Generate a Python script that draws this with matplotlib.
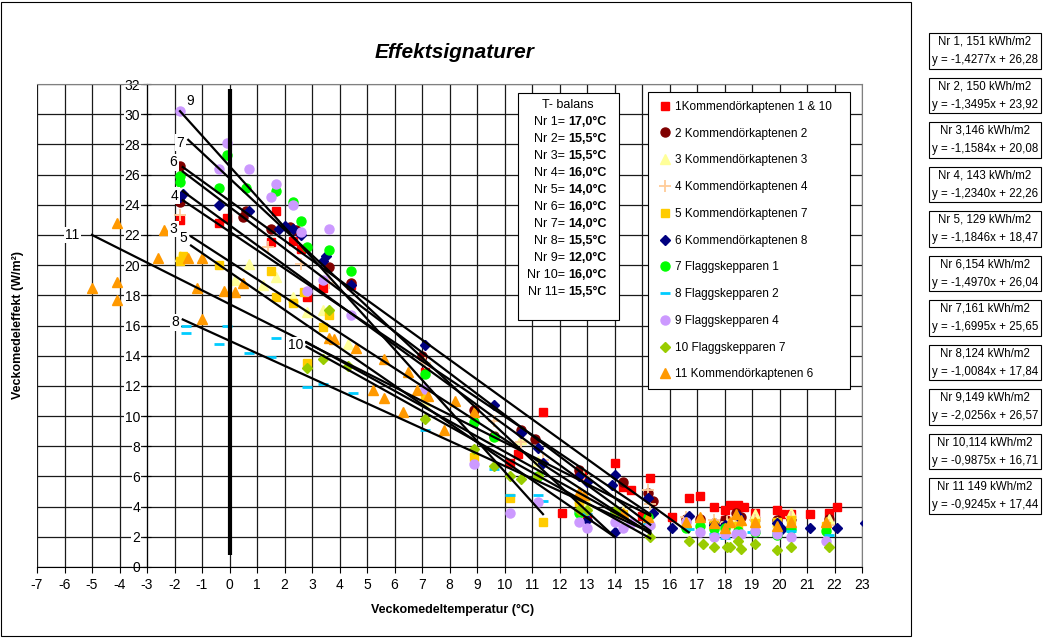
import matplotlib
matplotlib.use('Agg')
from matplotlib import pyplot as plt
import matplotlib.patches as mpatches

plt.rcParams['font.family'] = ['Liberation Sans', 'DejaVu Sans']
plt.rcParams['axes.unicode_minus'] = False

# scatter series (weekly mean temperature, weekly mean power)
x1 = [-1.8, -0.4, -0.1, 1.5, 1.7, 2.3, 2.6, 2.8, 3.4, 4.4, 7.1, 10.2, 10.5, 11.4, 12.1, 12.7, 12.8, 13.0, 14.0, 14.3,
      14.6, 15.0, 15.3, 16.1, 16.7, 17.1, 17.6, 18.0, 18.0, 18.2, 18.5, 18.7, 19.1, 19.9, 20.1, 20.4, 21.1, 21.8, 22.1]
y1 = [23.0, 22.8, 23.1, 21.5, 23.6, 21.6, 21.1, 17.9, 18.5, 18.7, 12.9, 6.9, 7.5, 10.3, 3.6, 6.2, 6.0, 3.3, 6.9, 5.3,
      5.1, 3.4, 5.9, 3.3, 4.6, 4.7, 4.0, 3.8, 3.1, 4.1, 4.1, 4.0, 3.6, 3.8, 3.5, 3.5, 3.5, 3.6, 4.0]
x2 = [-1.8, -1.8, 0.6, 0.5, 1.5, 2.2, 2.4, 3.6, 4.4, 7.0, 8.9, 9.6, 10.6, 11.1, 12.7, 14.3, 15.2, 15.4, 16.6, 17.1,
      17.6, 18.0, 18.4, 18.6, 19.1, 19.9, 20.4, 21.8]
y2 = [26.6, 24.2, 23.6, 23.2, 22.4, 22.5, 22.3, 19.9, 18.8, 14.0, 10.4, 8.7, 9.1, 8.5, 6.4, 5.6, 4.9, 4.4, 3.2, 3.2,
      2.9, 3.1, 3.6, 3.3, 3.2, 3.1, 3.2, 3.2]
x3 = [-1.8, 0.2, 0.7, 1.2, 1.7, 2.3, 2.8, 3.4, 4.3, 7.1, 9.6, 10.6, 11.2, 12.7, 13.0, 14.3, 15.2, 15.3, 16.6, 17.6,
      18.1, 18.5, 19.1, 19.9, 20.4, 21.8]
y3 = [20.6, 19.0, 20.1, 18.7, 19.2, 17.9, 16.9, 17.0, 14.8, 11.0, 8.7, 8.5, 7.0, 4.6, 4.3, 3.7, 3.3, 3.0, 3.3, 3.0,
      2.9, 3.3, 3.5, 3.0, 3.6, 3.2]
x4 = [-1.8, 1.4, 2.6, 3.6, 7.1, 9.6, 10.6, 11.4, 12.9, 15.2, 15.3, 16.6, 17.6, 18.1, 18.4, 19.1, 20.4, 21.8]
y4 = [23.3, 21.2, 20.1, 18.8, 13.5, 9.7, 8.3, 7.1, 6.0, 5.1, 4.2, 3.3, 3.1, 3.0, 3.3, 3.1, 3.3, 2.8]
x5 = [-1.8, -1.7, -0.4, 1.5, 1.7, 2.3, 2.7, 3.4, 3.6, 2.8, 7.1, 8.9, 10.2, 11.4, 12.7, 14.3, 15.2, 16.6, 17.6, 18.0,
      18.5, 19.1, 19.9, 20.4, 21.7]
y5 = [20.3, 20.6, 20.0, 19.6, 17.9, 17.5, 18.2, 15.9, 16.7, 13.5, 11.3, 7.3, 4.6, 3.0, 4.3, 3.5, 3.2, 2.8, 2.8, 2.5,
      2.7, 2.9, 3.0, 3.1, 2.7]
x6 = [-1.8, -1.7, -0.4, 0.7, 1.8, 2.0, 2.3, 2.6, 3.4, 3.5, 4.4, 7.1, 9.6, 10.6, 11.2, 11.4, 12.7, 13.0, 13.0, 14.0,
      13.9, 14.0, 15.2, 15.4, 16.1, 16.7, 17.6, 18.0, 18.5, 19.9, 20.1, 21.1, 22.1, 23.1]
y6 = [24.5, 24.7, 24.0, 23.6, 22.4, 22.6, 22.4, 22.0, 20.3, 20.6, 18.7, 14.7, 10.7, 8.9, 7.9, 6.9, 6.0, 5.6, 3.1, 6.1,
      5.4, 2.3, 4.6, 3.6, 2.6, 3.4, 2.8, 2.8, 3.4, 2.9, 2.5, 2.6, 2.6, 2.9]
x7 = [-1.8, -1.8, -0.1, -0.4, 0.6, 1.7, 2.3, 2.6, 2.8, 3.6, 4.4, 7.1, 8.9, 9.6, 11.2, 12.7, 14.0, 15.2, 16.6, 17.1,
      17.6, 18.0, 18.5, 19.1, 19.9, 20.4, 21.7]
y7 = [25.9, 25.5, 27.3, 25.1, 25.1, 24.9, 24.2, 22.9, 21.2, 21.0, 19.6, 12.8, 9.6, 8.6, 6.0, 3.6, 3.6, 3.3, 2.6, 2.7,
      2.5, 2.6, 2.4, 2.3, 2.1, 2.5, 2.4]
x8 = [-1.6, -1.6, -0.1, -0.4, 0.7, 1.7, 1.5, 2.8, 3.4, 4.5, 7.1, 9.6, 10.2, 11.2, 11.4, 12.7, 13.0, 14.0, 15.2, 16.7,
      17.6, 18.0, 19.0, 19.9, 20.4, 21.8]
y8 = [16.0, 15.5, 16.0, 14.8, 14.2, 15.2, 13.9, 11.9, 12.1, 11.5, 9.1, 6.5, 4.8, 4.8, 4.4, 3.7, 3.5, 3.6, 2.9, 2.5,
      2.2, 1.9, 2.3, 2.3, 2.4, 2.1]
x9 = [-1.8, -0.1, -0.4, 0.7, 1.7, 1.5, 2.3, 3.6, 2.6, 3.4, 2.8, 4.4, 7.1, 8.9, 10.2, 11.2, 12.7, 13.0, 14.0, 14.3,
      14.6, 15.3, 16.6, 17.1, 17.6, 18.0, 18.4, 18.6, 19.1, 19.9, 20.4, 21.7]
y9 = [30.2, 28.1, 26.4, 26.4, 25.4, 24.5, 24.0, 22.4, 22.2, 19.0, 18.3, 16.7, 11.8, 6.8, 3.6, 4.3, 3.0, 2.6, 3.0, 2.6,
      2.9, 2.8, 3.0, 2.3, 2.0, 2.2, 2.2, 2.2, 2.4, 2.2, 2.0, 1.7]
x10 = [2.8, 3.4, 4.3, 3.6, 7.1, 8.9, 9.6, 10.2, 10.6, 11.2, 12.7, 13.0, 14.0, 15.3, 16.7, 17.2, 17.6, 18.1, 18.2,
       18.5, 18.6, 19.1, 19.9, 20.4, 21.8]
y10 = [13.2, 13.8, 13.3, 17.0, 9.8, 7.8, 6.7, 6.0, 5.8, 6.0, 3.8, 3.8, 3.7, 2.0, 1.7, 1.5, 1.3, 1.3, 1.3,
       1.7, 1.2, 1.5, 1.1, 1.3, 1.3]
x11 = [-5.0, -4.1, -4.1, -4.1, -2.6, -2.4, -1.5, -1.0, -1.2, -0.2, 0.2, 0.5, -1.0, 3.6, 3.8, 4.6, 5.2, 5.6, 5.6, 6.3,
       6.5, 6.8, 7.2, 7.8, 8.2, 8.9, 12.7, 12.9, 14.3, 15.2, 16.6, 17.1, 17.6, 18.0, 18.2, 18.4, 18.6, 19.1, 19.9,
       20.4, 21.7]
y11 = [18.5, 22.8, 18.9, 17.7, 20.5, 22.3, 20.5, 20.5, 18.5, 18.3, 18.2, 18.8, 16.4, 15.2, 15.1, 14.5, 11.7, 13.8,
       11.2, 10.3, 12.9, 11.7, 11.3, 9.1, 11.0, 10.3, 5.0, 4.8, 3.6, 3.3, 3.0, 3.3, 2.9, 2.6, 3.0, 3.5, 3.1, 3.0, 2.7,
       3.0, 3.0]

series_x = [x1, x2, x3, x4, x5, x6, x7, x8, x9, x10, x11]
series_y = [y1, y2, y3, y4, y5, y6, y7, y8, y9, y10, y11]
series_names = ['1Kommendörkaptenen 1 & 10', '2 Kommendörkaptenen 2', '3 Kommendörkaptenen 3',
                '4 Kommendörkaptenen 4', '5 Kommendörkaptenen 7', '6 Kommendörkaptenen 8',
                '7 Flaggskepparen 1', '8 Flaggskepparen 2', '9 Flaggskepparen 4',
                '10 Flaggskepparen 7', '11 Kommendörkaptenen 6']

# hand drawn signature lines (start/end)
line_x0 = [-1.8, -1.5, -1.7, -1.7, -1.7, -1.7, -1.4, -1.4, -5.0, -1.7, 2.8, 2.8]
line_y0 = [30.2, 28.3, 26.5, 26.2, 24.9, 24.3, 21.9, 21.3, 22.0, 16.4, 14.9, 14.6]
line_x1 = [11.4, 14.0, 16.7, 15.3, 15.3, 15.3, 15.3, 14.0, 15.3, 15.3, 15.3, 15.3]
line_y1 = [3.5, 2.0, 2.3, 2.8, 2.4, 3.5, 2.2, 2.0, 3.4, 2.3, 2.3, 1.9]

line_labels = ['9', '7', '6', '4', '3', '5', '11', '8', '10']
label_x = [-1.42, -1.79, -2.04, -2.0, -2.04, -1.68, -5.72, -1.97, 2.4]
label_y = [30.9, 28.1, 26.8, 24.6, 22.4, 21.8, 22.0, 16.2, 14.7]

balans_nr = ['Nr 1=', 'Nr 2=', 'Nr 3=', 'Nr 4=', 'Nr 5=', 'Nr 6=', 'Nr 7=', 'Nr 8=', 'Nr 9=', 'Nr 10=', 'Nr 11=']
balans_temp = ['17,0°C', '15,5°C', '15,5°C', '16,0°C', '14,0°C', '16,0°C', '14,0°C', '15,5°C', '12,0°C',
               '16,0°C', '15,5°C']

eq_boxes = ['Nr 1, 151 kWh/m2\ny = -1,4277x + 26,28', 'Nr 2, 150 kWh/m2\ny = -1,3495x + 23,92',
            'Nr 3,146 kWh/m2\ny = -1,1584x + 20,08', 'Nr 4, 143 kWh/m2\ny = -1,2340x + 22,26',
            'Nr 5, 129 kWh/m2\ny = -1,1846x + 18,47', 'Nr 6,154 kWh/m2\ny = -1,4970x + 26,04',
            'Nr 7,161 kWh/m2\ny = -1,6995x + 25,65', 'Nr 8,124 kWh/m2\ny = -1,0084x + 17,84',
            'Nr 9,149 kWh/m2\ny = -2,0256x + 26,57', 'Nr 10,114 kWh/m2\ny = -0,9875x + 16,71',
            'Nr 11 149 kWh/m2\ny = -0,9245x + 17,44']

styles = [
    dict(marker='s', color='#FF0000', ms=6),
    dict(marker='o', color='#800000', ms=6.5),
    dict(marker='^', color='#FFFF99', ms=7),
    dict(marker='+', color='#FFCC99', ms=8, mew=1.3),
    dict(marker='s', color='#FFCC00', ms=6),
    dict(marker='D', color='#000080', ms=5),
    dict(marker='o', color='#00FF00', ms=6.5),
    dict(marker='_', color='#00CCFF', ms=7, mew=2),
    dict(marker='o', color='#CC99FF', ms=6.5),
    dict(marker='D', color='#99CC00', ms=5),
    dict(marker='^', color='#FF9900', ms=7),
]


def fx(px):
    return px / 1045


def fy(py):
    return 1 - py / 638


fig = plt.figure(figsize=(10.45, 6.38), dpi=100)
ax = fig.add_axes([fx(37), fy(567), fx(825), 483 / 638])
ax.set_xlim(-7, 23)
ax.set_ylim(0, 32)
ax.set_xticks(range(-7, 24))
ax.set_yticks(range(0, 33, 2))
ax.grid(True, color='#1a1a1a', lw=0.9)
ax.set_axisbelow(True)
for s in ['top', 'right']:
    ax.spines[s].set_color('#808080')
ax.spines['left'].set_position(('data', -3))
ax.spines['left'].set_color('#000000')
ax.spines['bottom'].set_color('#000000')
ax.tick_params(axis='y', direction='inout', length=6, labelsize=10, pad=2)
ax.tick_params(axis='x', direction='out', length=4, labelsize=10, pad=4)
for lab in ax.get_yticklabels():
    lab.set_bbox(dict(facecolor='white', edgecolor='none', pad=0.5))

handles = []
for xs, ys, name, st in zip(series_x, series_y, series_names, styles):
    h, = ax.plot(xs, ys, linestyle='none', marker=st['marker'], color=st['color'],
                 markersize=st['ms'], markeredgewidth=st.get('mew', 1.0), label=name, zorder=3)
    handles.append(h)

# temperature 0 reference line
ax.plot([0, 0], [0.8, 31.7], color='black', lw=3, solid_capstyle='butt', zorder=4)

for a, b, c, d in zip(line_x0, line_y0, line_x1, line_y1):
    ax.plot([a, c], [b, d], color='black', lw=1.6, zorder=5)

for t, lx, ly in zip(line_labels, label_x, label_y):
    ax.text(lx, ly, t, ha='center', va='center', fontsize=10, zorder=6,
            bbox=dict(facecolor='white', edgecolor='none', pad=1))

leg = ax.legend(handles=handles, labels=[n + '   ' for n in series_names], loc='upper left',
                bbox_to_anchor=((648 - 37) / 825, (567 - 92) / 483),
                borderaxespad=0, fontsize=8.5, frameon=True, fancybox=False, edgecolor='black',
                framealpha=1, labelspacing=1.25, handlelength=1.4, handletextpad=0.1, borderpad=0.75,
                numpoints=1)
leg.get_frame().set_linewidth(0.8)
leg.set_zorder(7)

# T-balans box
fig.add_artist(mpatches.Rectangle((fx(518), fy(320)), fx(101), 227 / 638, transform=fig.transFigure,
                                  facecolor='white', edgecolor='black', lw=0.8, zorder=8))
fig.text(fx(568), fy(105), 'T- balans', ha='center', va='center', fontsize=9, zorder=9)
for i, (nr, tmp) in enumerate(zip(balans_nr, balans_temp)):
    yy = fy(122 + 17 * i)
    fig.text(fx(565), yy, nr, ha='right', va='center', fontsize=9, zorder=9)
    fig.text(fx(568), yy, tmp, ha='left', va='center', fontsize=9, fontweight='bold', zorder=9)

fig.text(fx(455), fy(52), 'Effektsignaturer', ha='center', va='center', fontsize=15,
         fontweight='bold', fontstyle='italic')
fig.text(fx(18), fy(325), 'Veckomedeleffekt (W/m²)', ha='center', va='center', rotation=90,
         fontsize=9, fontweight='bold')
fig.text(fx(453), fy(610), 'Veckomedeltemperatur (°C)', ha='center', va='center',
         fontsize=9, fontweight='bold')

for i, txt in enumerate(eq_boxes):
    fig.text(fx(985), fy(51 + 44.5 * i), txt, ha='center', va='center', fontsize=8.3, linespacing=1.75,
             bbox=dict(facecolor='white', edgecolor='black', lw=0.8, boxstyle='square,pad=0.22'))

# chart area border
fig.add_artist(mpatches.Rectangle((fx(1), fy(636)), fx(910), 634 / 638, transform=fig.transFigure,
                                  fill=False, edgecolor='black', lw=0.8))

fig.savefig('out.png', dpi=100, facecolor='white')
